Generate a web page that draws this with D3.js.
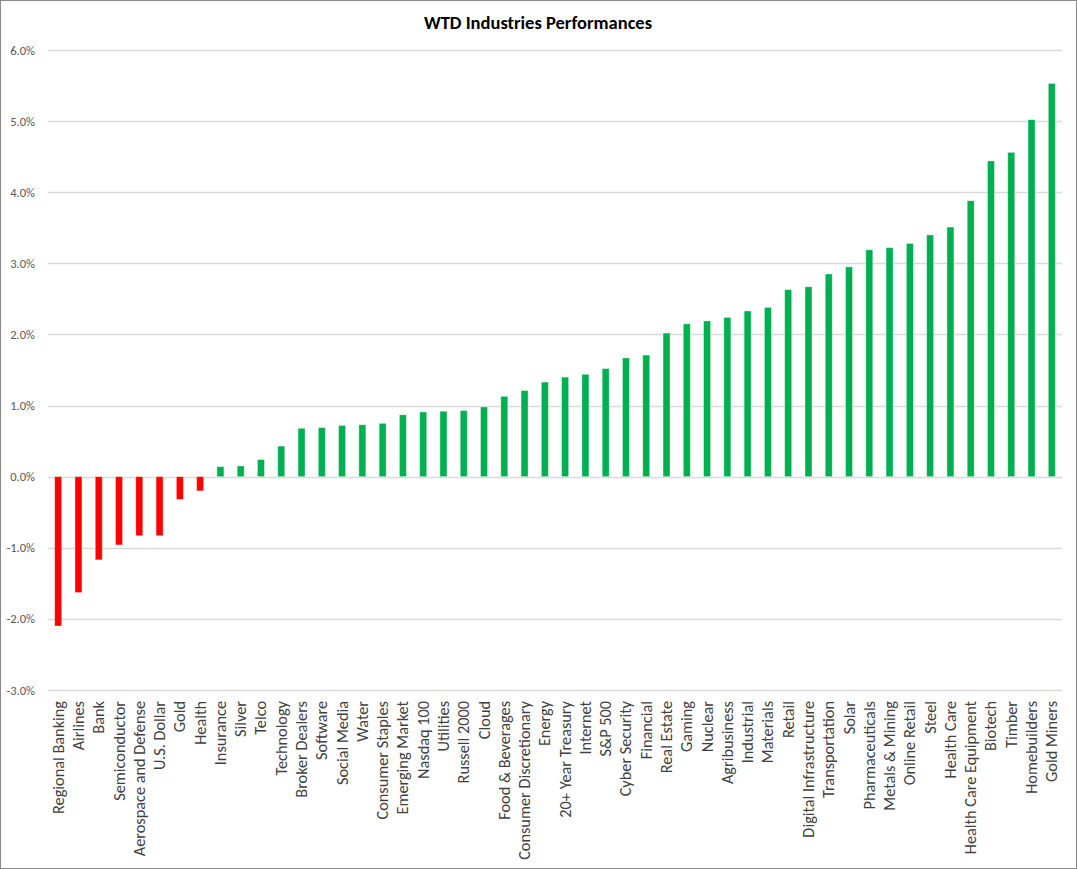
<!DOCTYPE html>
<html>
<head>
<meta charset="utf-8">
<script src="https://cdn.jsdelivr.net/npm/d3@7"></script>
<style>
  body { margin: 0; background: #fff; }
  svg { display: block; font-family: Calibri, Carlito, "Open Sans", sans-serif; }
</style>
</head>
<body>
<svg id="chart" width="1077" height="869"></svg>
<script>
// industries, sorted by weekly performance (%)
const industries = [
  "Regional Banking", "Airlines", "Bank", "Semiconductor", "Aerospace and Defense",
  "U.S. Dollar", "Gold", "Health", "Insurance", "Silver", "Telco", "Technology",
  "Broker Dealers", "Software", "Social Media", "Water", "Consumer Staples",
  "Emerging Market", "Nasdaq 100", "Utilities", "Russell 2000", "Cloud",
  "Food & Beverages", "Consumer Discretionary", "Energy", "20+ Year Treasury",
  "Internet", "S&P 500", "Cyber Security", "Financial", "Real Estate", "Gaming",
  "Nuclear", "Agribusiness", "Industrial", "Materials", "Retail",
  "Digital Infrastructure", "Transportation", "Solar", "Pharmaceuticals",
  "Metals & Mining", "Online Retail", "Steel", "Health Care",
  "Health Care Equipment", "Biotech", "Timber", "Homebuilders", "Gold Miners"
];

const performance = [
  -2.10, -1.63, -1.17, -0.96, -0.83, -0.83, -0.32, -0.20, 0.14, 0.15, 0.24, 0.43,
  0.68, 0.69, 0.72, 0.73, 0.75, 0.87, 0.91, 0.92, 0.93, 0.98,
  1.13, 1.21, 1.33, 1.40, 1.44, 1.52, 1.67, 1.71, 2.02, 2.15,
  2.19, 2.24, 2.33, 2.38, 2.63, 2.67, 2.85, 2.95, 3.19,
  3.22, 3.28, 3.40, 3.51, 3.88, 4.44, 4.56, 5.02, 5.53
];

const yTicks = [-3, -2, -1, 0, 1, 2, 3, 4, 5, 6];

const data = industries.map((name, i) => ({ name, value: performance[i] }));

const svg = d3.select("#chart");
const W = 1077, H = 869;
const margin = { left: 48, right: 15, top: 50, bottom: 179 };

// chart area border
svg.append("rect")
  .attr("x", 0.5).attr("y", 0.5)
  .attr("width", W - 1).attr("height", H - 1)
  .attr("fill", "#fff")
  .attr("stroke", "#898989");

const x = d3.scaleBand()
  .domain(industries)
  .range([margin.left, W - margin.right])
  .paddingInner(0.655)
  .paddingOuter(0.33);

const y = d3.scaleLinear()
  .domain([-3, 6])
  .range([H - margin.bottom, margin.top]);

// title
svg.append("text")
  .attr("x", 538).attr("y", 29)
  .attr("text-anchor", "middle")
  .attr("font-size", 18.5)
  .attr("font-weight", "bold")
  .attr("fill", "#000")
  .text("WTD Industries Performances");

// gridlines
svg.append("g")
  .selectAll("line")
  .data(yTicks)
  .join("line")
  .attr("x1", margin.left)
  .attr("x2", W - margin.right)
  .attr("y1", (d) => Math.round(y(d)) + 0.5)
  .attr("y2", (d) => Math.round(y(d)) + 0.5)
  .attr("stroke", "#d9d9d9")
  .attr("stroke-width", 1.3);

// y axis labels
const yAxis = svg.append("g")
  .attr("transform", `translate(${margin.left - 10},0)`)
  .call(d3.axisLeft(y).tickValues(yTicks).tickSize(0).tickFormat((d) => d.toFixed(1) + "%"));
yAxis.select(".domain").remove();
yAxis.selectAll("text")
  .attr("font-family", "Calibri, Carlito, 'Open Sans', sans-serif")
  .attr("font-size", 12.5)
  .attr("fill", "#595959");

// bars
svg.append("g")
  .selectAll("rect")
  .data(data)
  .join("rect")
  .attr("x", (d) => x(d.name))
  .attr("width", x.bandwidth())
  .attr("y", (d) => y(Math.max(0, d.value)))
  .attr("height", (d) => Math.abs(y(d.value) - y(0)))
  .attr("fill", (d) => (d.value < 0 ? "#ff0000" : "#00b050"))
  .attr("stroke", "#ffffff")
  .attr("stroke-opacity", 0.45)
  .attr("stroke-width", 0.8);

// category labels, rotated
svg.append("g")
  .selectAll("text")
  .data(industries)
  .join("text")
  .attr("transform", (d) => `translate(${x(d) + x.bandwidth() / 2 + 5.5},${H - margin.bottom + 11}) rotate(-90)`)
  .attr("text-anchor", "end")
  .attr("font-size", 16.3)
  .attr("fill", "#404040")
  .text((d) => d);
</script>
</body>
</html>
